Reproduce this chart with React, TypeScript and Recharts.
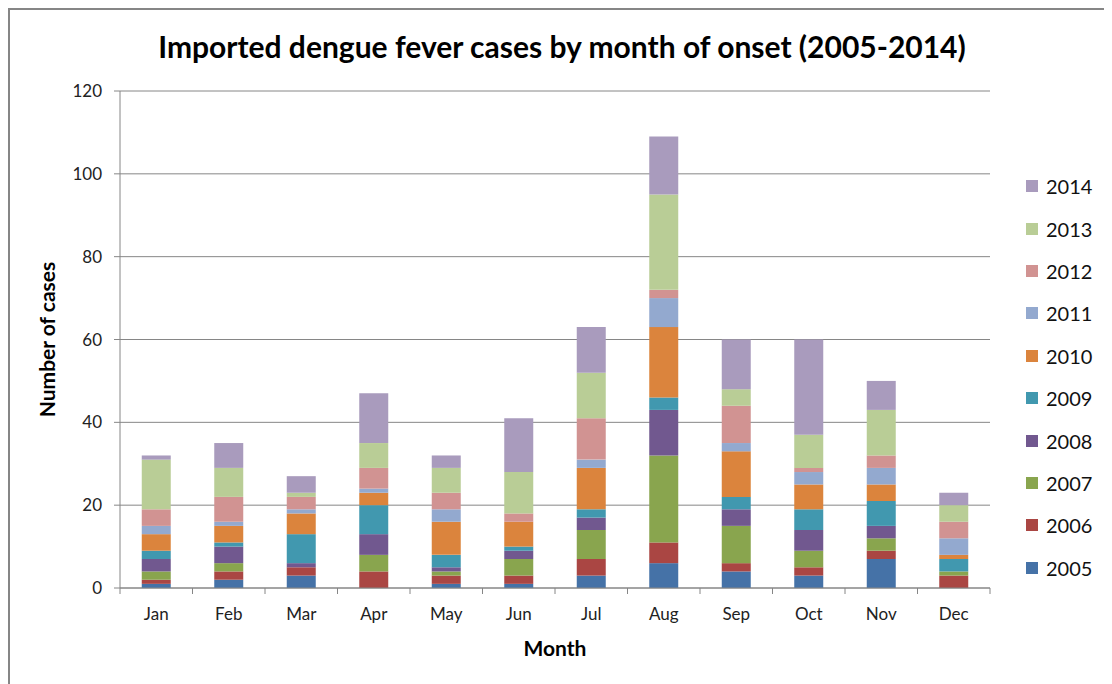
import React from 'react';
import { BarChart, Bar, XAxis, YAxis, CartesianGrid, Legend } from 'recharts';

const months = ['Jan', 'Feb', 'Mar', 'Apr', 'May', 'Jun', 'Jul', 'Aug', 'Sep', 'Oct', 'Nov', 'Dec'];

const y2005 = [1, 2, 3, 0, 1, 1, 3, 6, 4, 3, 7, 0];
const y2006 = [1, 2, 2, 4, 2, 2, 4, 5, 2, 2, 2, 3];
const y2007 = [2, 2, 0, 4, 1, 4, 7, 21, 9, 4, 3, 1];
const y2008 = [3, 4, 1, 5, 1, 2, 3, 11, 4, 5, 3, 0];
const y2009 = [2, 1, 7, 7, 3, 1, 2, 3, 3, 5, 6, 3];
const y2010 = [4, 4, 5, 3, 8, 6, 10, 17, 11, 6, 4, 1];
const y2011 = [2, 1, 1, 1, 3, 0, 2, 7, 2, 3, 4, 4];
const y2012 = [4, 6, 3, 5, 4, 2, 10, 2, 9, 1, 3, 4];
const y2013 = [12, 7, 1, 6, 6, 10, 11, 23, 4, 8, 11, 4];
const y2014 = [1, 6, 4, 12, 3, 13, 11, 14, 12, 23, 7, 3];

const yTicks = [0, 20, 40, 60, 80, 100, 120];

const series = [
  { key: '2005', values: y2005, color: '#4572A7' },
  { key: '2006', values: y2006, color: '#AA4643' },
  { key: '2007', values: y2007, color: '#89A54E' },
  { key: '2008', values: y2008, color: '#71588F' },
  { key: '2009', values: y2009, color: '#4198AF' },
  { key: '2010', values: y2010, color: '#DB843D' },
  { key: '2011', values: y2011, color: '#93A9CF' },
  { key: '2012', values: y2012, color: '#D19392' },
  { key: '2013', values: y2013, color: '#B9CD96' },
  { key: '2014', values: y2014, color: '#A99BBD' },
];

const data = months.map((m, i) => {
  const row: Record<string, any> = { month: m };
  series.forEach((s) => {
    row[s.key] = s.values[i];
  });
  return row;
});

const FONT = 'Lato, "Open Sans", sans-serif';
const AXIS = '#868686';

const CHART_W = 1104;
const CHART_H = 676;
const MARGIN = { top: 83, right: 122, left: 52, bottom: 66 };
const Y_AXIS_W = 60;
const BAND = (CHART_W - MARGIN.left - MARGIN.right - Y_AXIS_W) / months.length;
const TICK_SIZE = 6;
const TICK_MARGIN = 2;

// Excel style: tick marks sit between categories
const MonthTick = (props: any) => {
  const { x, y, payload, index } = props;
  const axisY = y - TICK_SIZE - TICK_MARGIN;
  const half = BAND / 2;
  return (
    <g>
      <line x1={x - half} y1={axisY} x2={x - half} y2={axisY + 6} stroke={AXIS} />
      {index === months.length - 1 && (
        <line x1={x + half} y1={axisY} x2={x + half} y2={axisY + 6} stroke={AXIS} />
      )}
      <text x={x} y={axisY + 32} textAnchor="middle" fill="#222" fontSize={17} fontFamily={FONT}>
        {payload.value}
      </text>
    </g>
  );
};

const LegendContent = () => (
  <div style={{ fontFamily: FONT, fontSize: 20, color: '#111' }}>
    {[...series].reverse().map((s) => (
      <div key={s.key} style={{ display: 'flex', alignItems: 'center', height: 42.4 }}>
        <span style={{ width: 12, height: 12, background: s.color, display: 'inline-block', marginRight: 8 }} />
        <span>{s.key}</span>
      </div>
    ))}
  </div>
);

export default function App() {
  return (
    <div style={{ position: 'relative', width: CHART_W, height: CHART_H, background: '#fff' }}>
      <div
        style={{
          position: 'absolute',
          left: 0,
          top: 0,
          right: -20,
          bottom: -20,
          borderTop: `2px solid ${AXIS}`,
          borderLeft: `2px solid ${AXIS}`,
          pointerEvents: 'none',
        }}
      />
      <div
        style={{
          position: 'absolute',
          left: 0,
          width: 1108,
          top: 20,
          textAlign: 'center',
          fontFamily: FONT,
          fontWeight: 700,
          fontSize: 30,
          color: '#000',
        }}
      >
        Imported dengue fever cases by month of onset (2005-2014)
      </div>
      <BarChart width={CHART_W} height={CHART_H} data={data} margin={MARGIN} barCategoryGap="30%">
        <CartesianGrid vertical={false} stroke={AXIS} strokeWidth={1} />
        <XAxis
          dataKey="month"
          axisLine={{ stroke: AXIS }}
          tickLine={false}
          tickSize={TICK_SIZE}
          tickMargin={TICK_MARGIN}
          height={30}
          interval={0}
          tick={<MonthTick />}
          label={{
            value: 'Month',
            position: 'insideBottom',
            offset: -38,
            style: { fontFamily: FONT, fontWeight: 700, fontSize: 21, fill: '#000' },
          }}
        />
        <YAxis
          width={Y_AXIS_W}
          domain={[0, 120]}
          ticks={yTicks}
          axisLine={{ stroke: AXIS }}
          tickLine={{ stroke: AXIS }}
          tickSize={TICK_SIZE}
          tickMargin={12}
          tick={{ fill: '#222', fontSize: 17, fontFamily: FONT }}
          label={{
            value: 'Number of cases',
            angle: -90,
            position: 'insideLeft',
            offset: -12,
            style: { textAnchor: 'middle', fontFamily: FONT, fontWeight: 700, fontSize: 21, fill: '#000' },
          }}
        />
        <Legend
          layout="vertical"
          align="center"
          verticalAlign="middle"
          content={<LegendContent />}
          wrapperStyle={{ left: 1018, top: 157, width: 90, height: 430 }}
        />
        {series.map((s) => (
          <Bar key={s.key} dataKey={s.key} stackId="a" fill={s.color} isAnimationActive={false} />
        ))}
      </BarChart>
    </div>
  );
}
